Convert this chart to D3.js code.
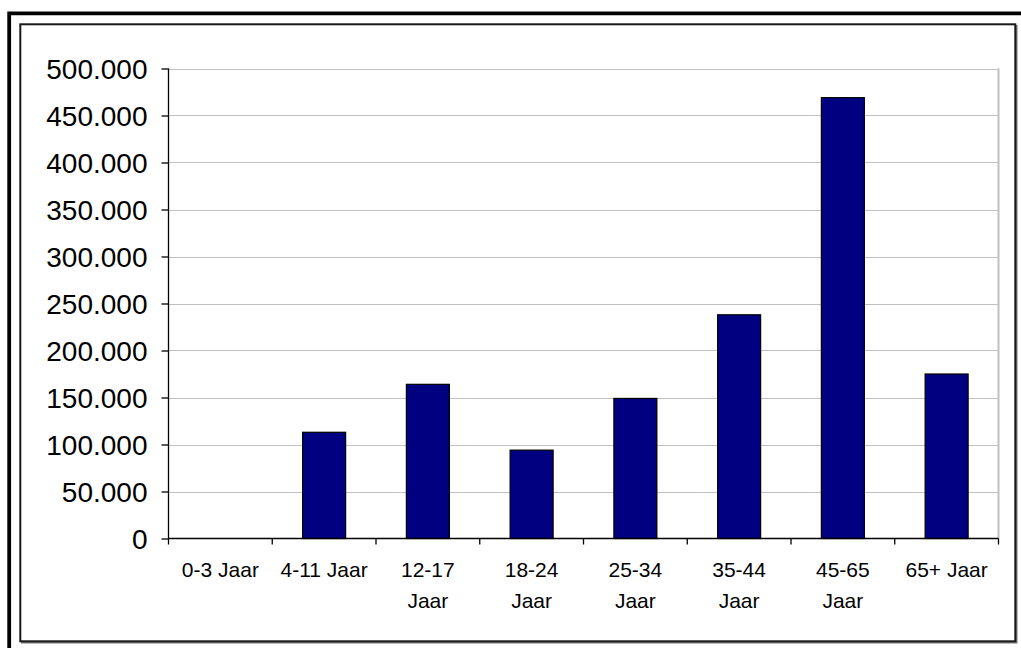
<!DOCTYPE html>
<html>
<head>
<meta charset="utf-8">
<script src="https://cdn.jsdelivr.net/npm/d3@7"></script>
<style>
  html, body { margin: 0; padding: 0; background: #fff; }
  svg { display: block; font-family: "Liberation Sans", Arial, sans-serif; }
</style>
</head>
<body>
<script>
// age groups and values
var categories = ["0-3 Jaar", "4-11 Jaar", "12-17 Jaar", "18-24 Jaar", "25-34 Jaar", "35-44 Jaar", "45-65 Jaar", "65+ Jaar"];
var values = [0, 113000, 164000, 94000, 149000, 238000, 469000, 175000];
var yTicks = [0, 50000, 100000, 150000, 200000, 250000, 300000, 350000, 400000, 450000, 500000];

var width = 1021, height = 648;
var plot = {left: 168.5, top: 68.5, right: 998.5, bottom: 538.5};

var svg = d3.select("body").append("svg")
    .attr("width", width)
    .attr("height", height);

// frames
svg.append("path")
    .attr("d", "M9.2," + height + "V13.3H" + width)
    .attr("fill", "none")
    .attr("stroke", "#000")
    .attr("stroke-width", 3.8);
svg.append("path")
    .attr("d", "M1016.5,25V642.5H21")
    .attr("fill", "none")
    .attr("stroke", "#777")
    .attr("stroke-width", 2);
svg.append("rect")
    .attr("x", 20.3).attr("y", 24.3)
    .attr("width", 995).attr("height", 617)
    .attr("fill", "none")
    .attr("stroke", "#1a1a1a")
    .attr("stroke-width", 2);

var x = d3.scaleBand()
    .domain(categories)
    .range([plot.left, plot.right]);

var y = d3.scaleLinear()
    .domain([0, 500000])
    .range([plot.bottom, plot.top]);

var fmt = function(v) { return d3.format(",")(v).replace(/,/g, "."); };

// gridlines
svg.append("g")
    .selectAll("line")
    .data(yTicks.filter(function(d) { return d > 0; }))
    .join("line")
    .attr("x1", plot.left).attr("x2", plot.right)
    .attr("y1", function(d) { return Math.round(y(d)) + 0.5; })
    .attr("y2", function(d) { return Math.round(y(d)) + 0.5; })
    .attr("stroke", "#c0c0c0")
    .attr("stroke-width", 1);

// right border of plot area
svg.append("line")
    .attr("x1", plot.right).attr("x2", plot.right)
    .attr("y1", plot.top).attr("y2", plot.bottom)
    .attr("stroke", "#c0c0c0")
    .attr("stroke-width", 2);

// bars
var barW = 43;
var rows = categories.map(function(c, i) { return {cat: c, v: values[i]}; });
svg.append("g")
    .selectAll("rect")
    .data(rows.filter(function(d) { return d.v > 0; }))
    .join("rect")
    .attr("x", function(d) { return x(d.cat) + x.bandwidth() / 2 - barW / 2; })
    .attr("width", barW)
    .attr("y", function(d) { return y(d.v); })
    .attr("height", function(d) { return y(0) - y(d.v); })
    .attr("fill", "#000080")
    .attr("stroke", "#000")
    .attr("stroke-width", 1.2);

// y axis
var yAxis = svg.append("g")
    .attr("transform", "translate(" + plot.left + ",0)")
    .call(d3.axisLeft(y).tickValues(yTicks).tickFormat(fmt).tickSize(7).tickPadding(14));
yAxis.select(".domain").attr("stroke", "#000").attr("stroke-width", 1.3).attr("d", "M0," + plot.bottom + "V" + plot.top);
yAxis.selectAll(".tick line").attr("stroke", "#000").attr("stroke-width", 1.3);
yAxis.selectAll(".tick text")
    .attr("font-size", 28)
    .attr("font-family", "'Liberation Sans', Arial, sans-serif")
    .attr("fill", "#000")
    .attr("dy", "0.36em");

// x axis
var xAxis = svg.append("g")
    .attr("transform", "translate(0," + plot.bottom + ")");
xAxis.append("line")
    .attr("x1", plot.left).attr("x2", plot.right)
    .attr("stroke", "#000").attr("stroke-width", 1.3);
xAxis.selectAll(".tk")
    .data(categories.concat(["end"]))
    .join("line")
    .attr("class", "tk")
    .attr("x1", function(d, i) { return plot.left + i * x.bandwidth(); })
    .attr("x2", function(d, i) { return plot.left + i * x.bandwidth(); })
    .attr("y1", 0).attr("y2", 6)
    .attr("stroke", "#000").attr("stroke-width", 1.3);

var labels = xAxis.selectAll(".lbl")
    .data(categories)
    .join("text")
    .attr("class", "lbl")
    .attr("x", function(d) { return x(d) + x.bandwidth() / 2; })
    .attr("y", 38)
    .attr("text-anchor", "middle")
    .attr("font-size", 21)
    .attr("fill", "#000")
    .text(function(d) { return d; });

// wrap labels that are wider than the category slot
labels.each(function(d) {
  var t = d3.select(this);
  if (this.getComputedTextLength() > 90) {
    var parts = d.split(" ");
    var cx = t.attr("x");
    t.text(null);
    t.append("tspan").attr("x", cx).attr("dy", 0).text(parts[0]);
    t.append("tspan").attr("x", cx).attr("dy", 31).text(parts.slice(1).join(" "));
  }
});
</script>
</body>
</html>
